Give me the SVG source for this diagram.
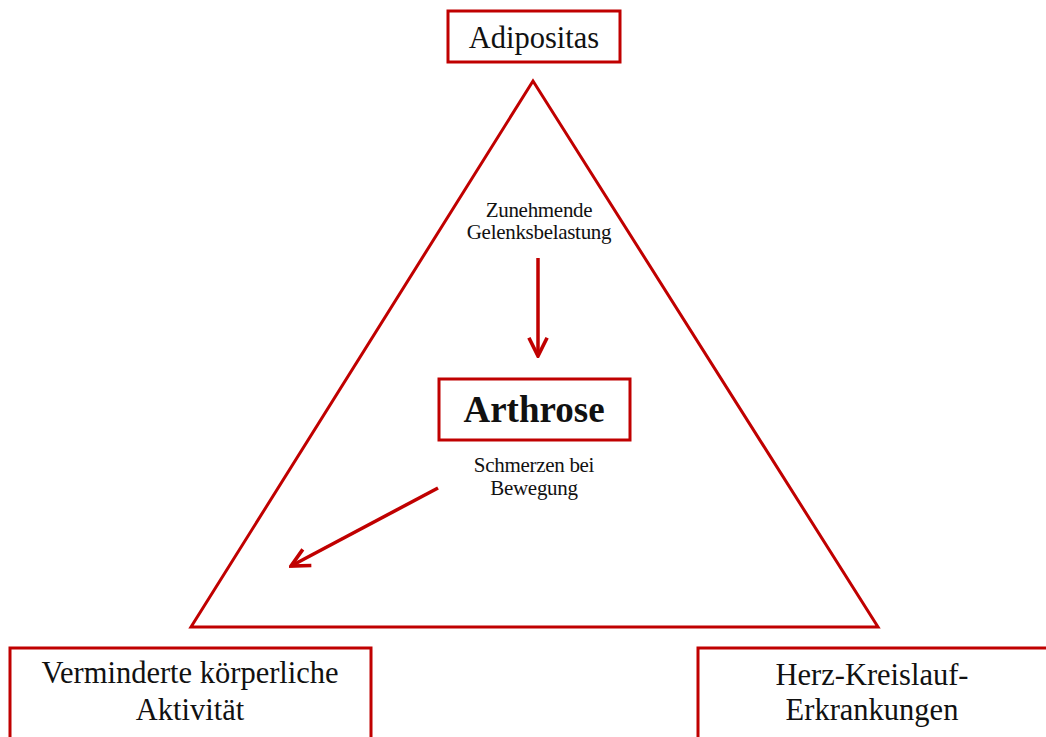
<svg xmlns="http://www.w3.org/2000/svg" width="1046" height="737" viewBox="0 0 1046 737">
<defs>
<style>
.box{fill:#fff;stroke:#c00000;stroke-width:3}
.t{font-family:"Liberation Serif",serif;fill:#111;text-anchor:middle}
.big{font-size:30.5px}
.sm{font-size:21px;letter-spacing:-0.3px}
.conn{stroke:#c00000;stroke-width:3.5;fill:none}
</style>
<marker id="ah" viewBox="0 0 10 10" refX="9" refY="5" markerWidth="6.5" markerHeight="6.5" orient="auto" markerUnits="strokeWidth">
<path d="M1,1 L9,5 L1,9" fill="none" stroke="#c00000" stroke-width="1.6"/>
</marker>
</defs>
<rect width="1046" height="737" fill="#fff"/>
<polygon points="533,81 191,627 878,627" fill="none" stroke="#c00000" stroke-width="3"/>
<g id="connectors">
<line class="conn" x1="538" y1="258" x2="538" y2="356" marker-end="url(#ah)"/>
<line class="conn" x1="438" y1="488" x2="291" y2="566" marker-end="url(#ah)"/>
</g>
<g id="adipositas">
<rect class="box" x="448" y="11" width="172" height="51"/>
<text class="t big" x="534" y="48">Adipositas</text>
</g>
<g id="label-belastung">
<text class="t sm" x="539" y="217">Zunehmende</text>
<text class="t sm" x="539" y="239">Gelenksbelastung</text>
</g>
<g id="arthrose">
<rect class="box" x="439" y="379" width="191" height="61"/>
<text class="t" x="534" y="422" font-size="37" font-weight="bold">Arthrose</text>
</g>
<g id="label-schmerzen">
<text class="t sm" x="534" y="472">Schmerzen bei</text>
<text class="t sm" x="534" y="495">Bewegung</text>
</g>
<g id="aktivitaet">
<rect class="box" x="10" y="648" width="361" height="100"/>
<text class="t big" x="190" y="683">Verminderte körperliche</text>
<text class="t big" x="190" y="720">Aktivität</text>
</g>
<g id="herz">
<rect class="box" x="698" y="648" width="360" height="100"/>
<text class="t big" x="872" y="685">Herz-Kreislauf-</text>
<text class="t big" x="872" y="720">Erkrankungen</text>
</g>
</svg>
